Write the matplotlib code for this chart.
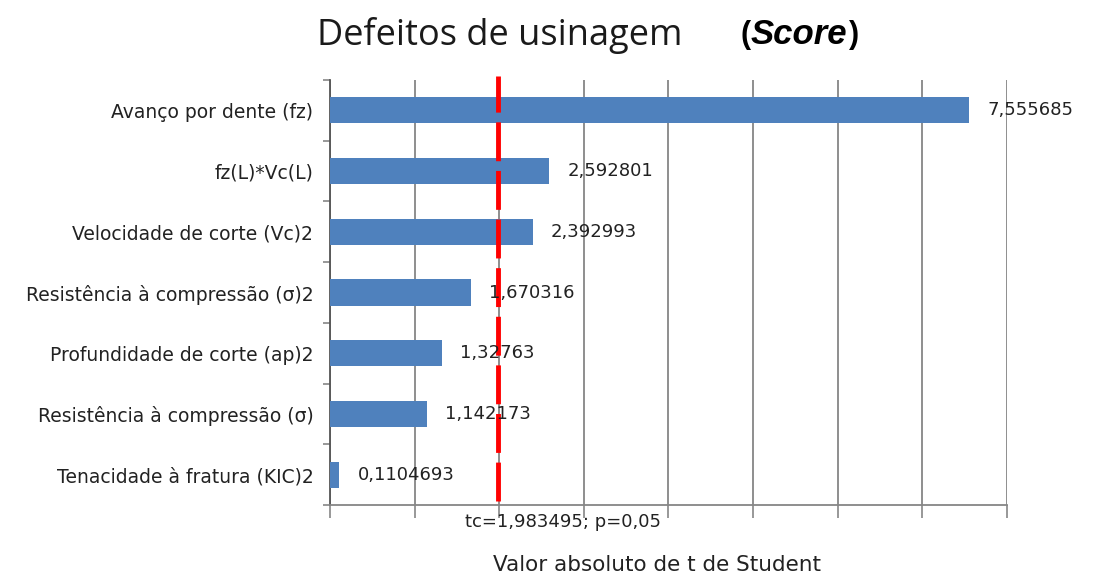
import numpy as np
import matplotlib
matplotlib.use('Agg')
import matplotlib.pyplot as plt
from matplotlib.ticker import FixedLocator, NullFormatter

# Data (top to bottom as in the chart)
fatores = ['Avanço por dente (fz)', 'fz(L)*Vc(L)', 'Velocidade de corte (Vc)2',
           'Resistência à compressão (σ)2', 'Profundidade de corte (ap)2',
           'Resistência à compressão (σ)', 'Tenacidade à fratura (KIC)2']
valores = [7.555685, 2.592801, 2.392993, 1.670316, 1.32763, 1.142173, 0.1104693]
rotulos = ['7,555685', '2,592801', '2,392993', '1,670316', '1,32763', '1,142173', '0,1104693']
t_critico = 1.983495
t_label = 'tc=1,983495; p=0,05'

BLUE = '#4F81BD'
GRID = '#868686'
TXT = '#222222'

fig = plt.figure(figsize=(10.95, 5.76), dpi=100)
ax = fig.add_axes([0.3014, 0.1233, 0.9196 - 0.3014, 0.861 - 0.1233])

y = np.arange(len(fatores))
ax.barh(y, valores, height=0.43, color=BLUE, zorder=3)
ax.set_ylim(len(fatores) - 0.5, -0.5)
ax.set_xlim(0, 8)

for yi, v, txt in zip(y, valores, rotulos):
    ax.annotate(txt, (v, yi), xytext=(13, 0), textcoords='offset points',
                va='center', ha='left', fontsize=13, color=TXT, zorder=5)

# vertical gridlines
ax.set_xticks(np.arange(0, 9))
ax.xaxis.set_major_formatter(NullFormatter())
ax.grid(axis='x', color=GRID, lw=1.3, zorder=0)
ax.tick_params(axis='x', direction='out', length=9, width=1.2, color=GRID)

# category labels, ticks at the band boundaries
ax.set_yticks(y)
ax.set_yticklabels(fatores, fontsize=13.5, color=TXT)
ax.tick_params(axis='y', length=0, pad=12)
ax.yaxis.set_minor_locator(FixedLocator(np.arange(-0.5, len(fatores), 1.0)))
ax.tick_params(axis='y', which='minor', direction='out', length=5, width=1.2, color=GRID)

for s in ['top', 'right']:
    ax.spines[s].set_visible(False)
ax.spines['left'].set_color('#555555')
ax.spines['left'].set_linewidth(1.3)
ax.spines['bottom'].set_color(GRID)
ax.spines['bottom'].set_linewidth(1.3)

# critical t line
ax.axvline(t_critico, ymin=0.01, ymax=1.01, color='red', lw=3.5,
           dashes=(8, 2), zorder=4, clip_on=False)
ax.text(t_critico + 0.77, -0.04, t_label, transform=ax.get_xaxis_transform(),
        ha='center', va='center', fontsize=13, color=TXT)

fig.text(657 / 1095, 1 - 565 / 576, 'Valor absoluto de t de Student', fontsize=15.5,
         color=TXT, ha='center', va='center')

fig.text(317 / 1095, 1 - 35 / 576, 'Defeitos de usinagem', fontsize=26,
         family='Open Sans', ha='left', va='center', color='#1a1a1a')
fig.text(740 / 1095, 1 - 35 / 576, '(', fontsize=22, weight='bold',
         family='Liberation Sans', ha='left', va='center')
fig.text(751 / 1095, 1 - 35 / 576, 'Score', fontsize=25, weight='bold', style='italic',
         family='Liberation Sans', ha='left', va='center')
fig.text(849 / 1095, 1 - 35 / 576, ')', fontsize=22, weight='bold',
         family='Liberation Sans', ha='left', va='center')

fig.savefig('out.png', dpi=100, facecolor='white')
